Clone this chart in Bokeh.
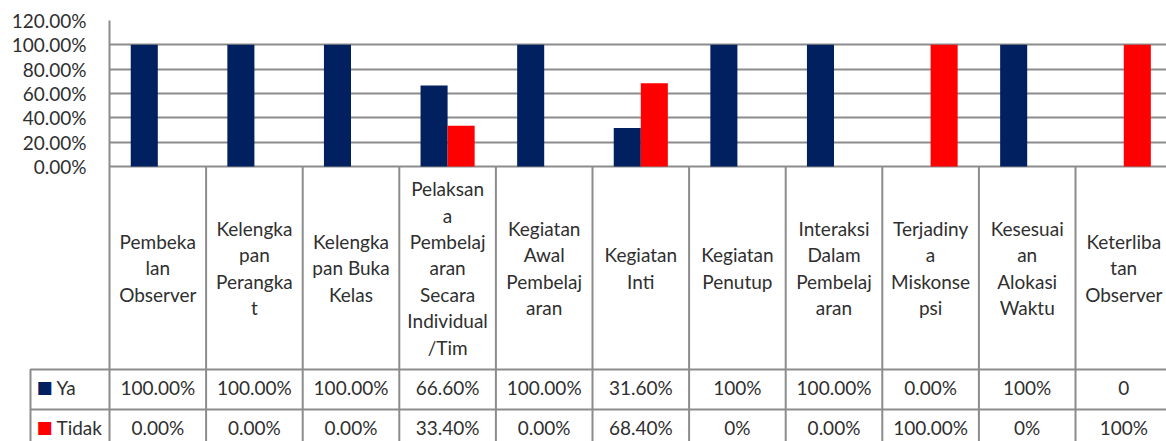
from bokeh.plotting import figure
from bokeh.models import Range1d, FixedTicker, PrintfTickFormatter
from bokeh.core.properties import value
from bokeh.embed import file_html
from bokeh.resources import INLINE

# ---------------- data ----------------
categories = [
    "Pembeka\nlan\nObserver",
    "Kelengka\npan\nPerangka\nt",
    "Kelengka\npan Buka\nKelas",
    "Pelaksan\na\nPembelaj\naran\nSecara\nIndividual\n/Tim",
    "Kegiatan\nAwal\nPembelaj\naran",
    "Kegiatan\nInti",
    "Kegiatan\nPenutup",
    "Interaksi\nDalam\nPembelaj\naran",
    "Terjadiny\na\nMiskonse\npsi",
    "Kesesuai\nan\nAlokasi\nWaktu",
    "Keterliba\ntan\nObserver",
]
ya = [100, 100, 100, 66.6, 100, 31.6, 100, 100, 0, 100, 0]
tidak = [0, 0, 0, 33.4, 0, 68.4, 0, 0, 100, 0, 100]
ya_labels = ["100.00%", "100.00%", "100.00%", "66.60%", "100.00%", "31.60%",
             "100%", "100.00%", "0.00%", "100%", "0"]
tidak_labels = ["0.00%", "0.00%", "0.00%", "33.40%", "0.00%", "68.40%",
                "0%", "0.00%", "100.00%", "0%", "100%"]
series_names = ["Ya", "Tidak"]
y_ticks = [0, 20, 40, 60, 80, 100, 120]

# ---------------- style / layout ----------------
NAVY = "#002060"
RED = "#FF0000"
GRID = "#8c8c8c"
TXT = "#2f2f2f"
FONT = "Lato"
FS = "19px"

W, H = 1166, 441
LEFT = 109          # px left of the plot frame
TOP = 20            # px above the 120% line
CAT = 96.6          # px per category
PLOT_PX = 146       # px from 120% to 0%
HEAD = 203          # header row height (px below zero line)
ROW = 40
ROW_TXT_SHIFT = -2  # row text slightly above row centre
LEG_LEFT_PX = 79    # legend column left border, px left of frame
SQ_PX = 65          # legend square centre, px left of frame
LBL_PX = 53         # legend text start, px left of frame

n = len(categories)
idx = list(range(n))
bw = 0.28

x_lo = -0.5
x_hi = -0.5 + (W - LEFT) / CAT
ppu = PLOT_PX / 120.0
below = H - TOP - PLOT_PX          # px of table below zero line
y_lo = -below / ppu

p = figure(width=W, height=H, x_range=Range1d(x_lo, x_hi), y_range=Range1d(y_lo, 120),
           output_backend="svg", toolbar_location=None, x_axis_location=None,
           min_border_left=LEFT, min_border_right=0, min_border_top=TOP, min_border_bottom=0)
p.extra_y_ranges = {"tbl": Range1d(below, -PLOT_PX)}
p.outline_line_color = None
p.background_fill_color = "white"
p.xgrid.visible = False
p.ygrid.ticker = FixedTicker(ticks=y_ticks)
p.ygrid.grid_line_color = GRID
p.ygrid.grid_line_width = 2
ax = p.yaxis[0]
ax.ticker = FixedTicker(ticks=y_ticks)
ax.formatter = PrintfTickFormatter(format="%.2f%%")
ax.major_tick_out = 0
ax.major_tick_in = 0
ax.minor_tick_out = 0
ax.minor_tick_in = 0
ax.major_label_standoff = 23
ax.major_label_text_font = FONT
ax.major_label_text_font_size = FS
ax.major_label_text_color = TXT
ax.axis_line_color = GRID
ax.axis_line_width = 2

# bars
p.vbar(x=[i - bw / 2 for i in idx], top=ya, bottom=0, width=bw, color=NAVY, line_color=None)
p.vbar(x=[i + bw / 2 for i in idx], top=tidak, bottom=0, width=bw, color=RED, line_color=None)

# data table grid
bx = [i + 0.5 for i in idx]
p.segment(x0=bx, y0=[0] * n, x1=bx, y1=[below + 10] * n, line_color=GRID, line_width=2,
          y_range_name="tbl")
x_leg = -0.5 - LEG_LEFT_PX / CAT
tbl_lines = p.multi_line(xs=[[x_leg, x_leg, 12], [x_leg, 12]],
                         ys=[[below + 10, HEAD, HEAD], [HEAD + ROW, HEAD + ROW]],
                         line_color=GRID, line_width=2, y_range_name="tbl")
tbl_lines.level = "overlay"

txt = dict(text_font=value(FONT), text_font_size=FS, text_color=TXT, y_range_name="tbl")
p.text(x=idx, y=[HEAD / 2] * n, text=categories, text_align="center", text_baseline="middle",
       text_line_height=1.15, **txt)
row_y = [HEAD + ROW / 2 + ROW_TXT_SHIFT, HEAD + 1.5 * ROW + ROW_TXT_SHIFT]
p.text(x=idx, y=[row_y[0]] * n, text=ya_labels, text_align="center",
       text_baseline="middle", **txt)
p.text(x=idx, y=[row_y[1]] * n, text=tidak_labels, text_align="center",
       text_baseline="middle", **txt)

# legend keys in the table
sq = p.text(x=[-0.5 - SQ_PX / CAT] * 2, y=[r - 1 for r in row_y], text=["\u25a0", "\u25a0"],
            text_color=[NAVY, RED], text_font=value("DejaVu Sans"), text_font_size="17px",
            text_align="center", text_baseline="middle", y_range_name="tbl")
sq.level = "overlay"
lt = p.text(x=[-0.5 - LBL_PX / CAT] * 2, y=row_y, text=series_names, text_align="left",
            text_baseline="middle", **txt)
lt.level = "overlay"

open("out.html", "w").write(file_html(p, INLINE))
